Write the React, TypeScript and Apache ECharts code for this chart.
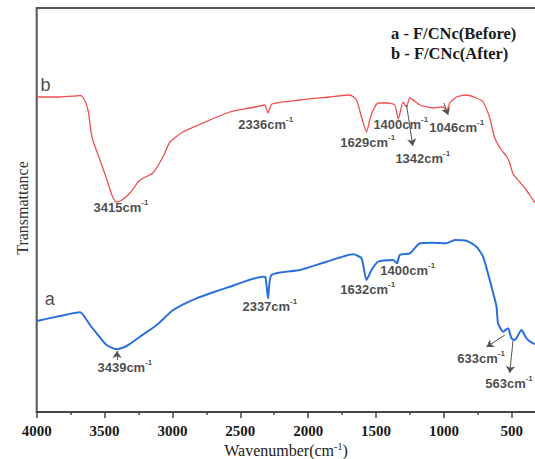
import React, { useEffect, useRef } from "react";
import * as echarts from "echarts";

// Curve b (after) – red
const redWave = [4000, 3828, 3718, 3681, 3659, 3622, 3593, 3534, 3482, 3446, 3414, 3372, 3313, 3239, 3144, 3070, 3018, 2923, 2775, 2577, 2429, 2356, 2319, 2295, 2267, 2061, 1840, 1693, 1644, 1607, 1570, 1546, 1521, 1484, 1411, 1362, 1336, 1300, 1275, 1251, 1177, 1079, 1006, 981, 957, 907, 834, 760, 711, 662, 625, 576, 539, 515, 490, 441, 392, 343, 294];
const redT = [315, 315, 316, 316.5, 315, 302, 275, 252, 232, 217, 210, 212, 219, 232, 239, 255, 270, 280, 289, 300, 304, 306, 307, 299, 308, 312, 315, 317, 312, 295, 280, 292, 302, 309, 309, 307, 293, 310, 305, 314, 307, 304, 305, 300, 309, 315, 317, 314, 310, 294, 274, 262, 256, 249, 238, 230, 222, 212, 204];

// Curve a (before) – blue
const blueWave = [4000, 3828, 3681, 3657, 3607, 3558, 3485, 3411, 3337, 3239, 3116, 2994, 2822, 2577, 2331, 2315, 2295, 2270, 2061, 1864, 1669, 1607, 1570, 1533, 1484, 1374, 1345, 1325, 1251, 1177, 1079, 981, 920, 834, 760, 711, 649, 612, 601, 564, 527, 502, 478, 428, 392, 343, 294];
const blueT = [91, 96, 99.7, 97, 87, 78.7, 67, 62.7, 66, 75.3, 87, 102, 113.7, 125.3, 135.3, 135, 113.7, 137, 142, 150.3, 157.7, 153.7, 132, 142, 150.3, 152, 148.7, 157, 158.7, 168.7, 169.3, 168.7, 172, 171.3, 165.3, 155.3, 125.3, 105.3, 89, 80.3, 83.7, 73.7, 72, 82, 73.7, 68.7, 67];

// Peak annotations (label left edge, middle)
const annoText = ["3415", "2336", "1629", "1400", "1342", "1046", "3439", "2337", "1632", "1400", "633", "563"];
const annoX = [3585, 2518, 1767, 1523, 1361, 1111, 3556, 2488, 1767, 1472, 905, 699];
const annoY = [205, 288, 270, 288, 254, 285, 45, 106, 123, 142, 54, 29];

// Curve names
const curveNames = ["b", "a"];
const curveNameX = [3976, 3945];
const curveNameY = [327, 113];

// Arrows [x1, y1, x2, y2]
const redArrows = [
  [1275, 307, 1229, 266],
  [1001, 309, 968, 297],
];
const blueArrows = [
  [3408, 52, 3408, 61],
  [551, 77, 686, 65],
  [490, 72, 515, 39],
];

const xTicks = [4000, 3500, 3000, 2500, 2000, 1500, 1000, 500];
const legendLines = ["a - F/CNc(Before)", "b - F/CNc(After)"];

const serif = "'Liberation Serif', 'Times New Roman', serif";
const sans = "'Liberation Sans', Arial, sans-serif";

export default function App() {
  const ref = useRef<HTMLDivElement>(null);
  useEffect(() => {
    if (!ref.current) return;
    const chart = echarts.init(ref.current, null, { renderer: "svg" });
    const zip = (a: number[], b: number[]) => a.map((v, i) => [v, b[i]]);
    const arrowData = (arr: number[][]) =>
      arr.map((a) => [
        { coord: [a[0], a[1]], symbol: "none" },
        { coord: [a[2], a[3]], symbol: "arrow" },
      ]);
    const supRich = {
      b: { fontSize: 13, fontWeight: "bold", fontFamily: sans, color: "#1a1a1a", lineHeight: 18 },
      s: { fontSize: 8, fontWeight: "bold", fontFamily: sans, color: "#1a1a1a", verticalAlign: "top", lineHeight: 8 },
      n: { fontSize: 18, fontFamily: sans, color: "#1a1a1a" },
    };
    const annoData = annoText.map((t, i) => ({
      value: [annoX[i], annoY[i]],
      name: "{b|" + t + "cm}{s|-1}",
    }));
    const nameData = curveNames.map((t, i) => ({
      value: [curveNameX[i], curveNameY[i]],
      name: "{n|" + t + "}",
    }));
    chart.setOption({
      animation: false,
      grid: {
        left: 36.7,
        top: 8,
        width: 542.9,
        height: 404,
        show: true,
        borderColor: "#555",
        borderWidth: 2,
        outerBoundsMode: "none",
        containLabel: false,
      },
      xAxis: {
        type: "value",
        min: 0,
        max: 4000,
        interval: 500,
        inverse: true,
        axisLine: { show: true, lineStyle: { color: "#444", width: 2 } },
        axisTick: { show: true, length: 6, lineStyle: { color: "#444", width: 1.5 } },
        minorTick: { show: true, splitNumber: 2, length: 3, lineStyle: { color: "#444", width: 1.5 } },
        splitLine: { show: false },
        axisLabel: {
          margin: 11,
          fontFamily: serif,
          fontWeight: "bold",
          fontSize: 15,
          color: "#1a1a1a",
          formatter: (v: number) => (xTicks.indexOf(v) >= 0 ? String(v) : ""),
        },
      },
      yAxis: {
        type: "value",
        min: 0,
        max: 404,
        axisLine: { show: true, lineStyle: { color: "#555", width: 1.5 } },
        axisTick: { show: false },
        axisLabel: { show: false },
        splitLine: { show: false },
      },
      series: [
        {
          type: "line",
          data: zip(redWave, redT),
          showSymbol: false,
          smooth: 0.2,
          lineStyle: { color: "#f0504f", width: 1.3 },
          itemStyle: { color: "#f0504f" },
          markLine: {
            silent: true,
            symbolSize: 7,
            label: { show: false },
            lineStyle: { color: "#555", width: 1, type: "solid" },
            data: arrowData(redArrows),
          },
        },
        {
          type: "line",
          data: zip(blueWave, blueT),
          showSymbol: false,
          smooth: 0.2,
          lineStyle: { color: "#2b6fdc", width: 2 },
          itemStyle: { color: "#2b6fdc" },
          markLine: {
            silent: true,
            symbolSize: 7,
            label: { show: false },
            lineStyle: { color: "#555", width: 1, type: "solid" },
            data: arrowData(blueArrows),
          },
        },
        {
          type: "scatter",
          data: [...annoData, ...nameData],
          symbolSize: 1,
          itemStyle: { color: "rgba(0,0,0,0)" },
          silent: true,
          label: {
            show: true,
            position: "right",
            distance: 0,
            color: "#1a1a1a",
            formatter: (p: any) => p.name,
            rich: supRich,
          },
        },
      ],
      graphic: [
        {
          type: "text",
          left: 391,
          top: 23,
          style: {
            text: legendLines.join("\n"),
            font: "bold 16.5px " + serif,
            fill: "#1a1a1a",
            lineHeight: 20,
          },
        },
        {
          type: "text",
          x: 22,
          y: 208,
          rotation: Math.PI / 2,
          style: {
            text: "Transmattance",
            font: "16px " + serif,
            fill: "#333",
            align: "center",
            verticalAlign: "middle",
          },
        },
        {
          type: "text",
          x: 286,
          y: 450,
          style: {
            text: "{t|Wavenumber(cm}{s|-1}{t|)}",
            align: "center",
            verticalAlign: "middle",
            rich: {
              t: { fontSize: 16, fontFamily: serif, fill: "#222", color: "#222", lineHeight: 18 },
              s: { fontSize: 10, fontFamily: serif, fill: "#222", color: "#222", verticalAlign: "top", lineHeight: 10 },
            },
          },
        },
      ],
    });
    return () => chart.dispose();
  }, []);
  return (
    <div
      ref={ref}
      style={{ position: "absolute", left: 0, top: 0, width: 535, height: 459, overflow: "hidden", background: "#fff" }}
    />
  );
}
